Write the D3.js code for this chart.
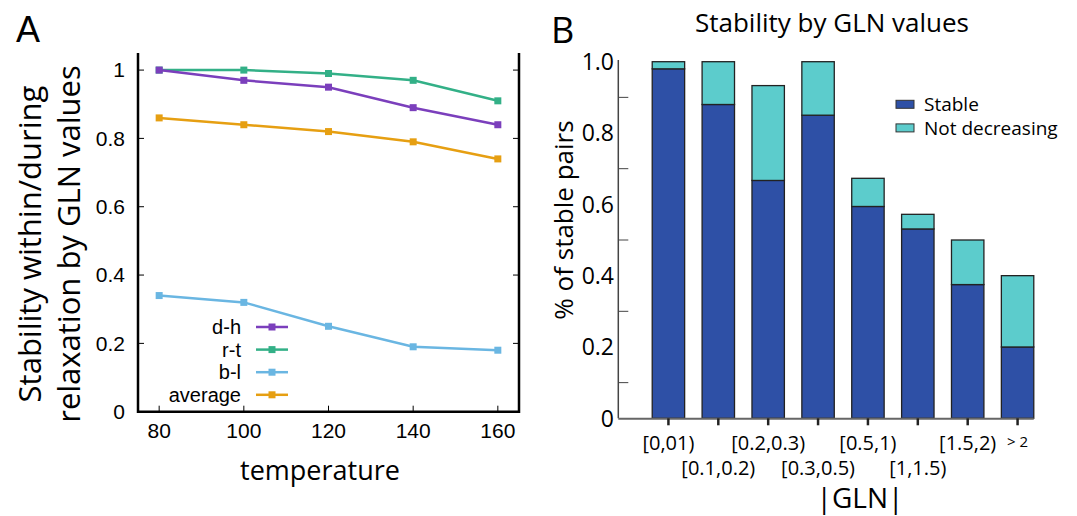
<!DOCTYPE html>
<html>
<head>
<meta charset="utf-8">
<script src="https://cdn.jsdelivr.net/npm/d3@7"></script>
<style>
  body { margin: 0; background: #fff; }
  svg { display: block; }
  .gp { font-family: "Liberation Sans", Arial, sans-serif; }
  .my { font-family: "Open Sans", sans-serif; }
</style>
</head>
<body>
<svg width="1077" height="516"></svg>
<script>
// ---- panel A data ----
var temps = [80, 100, 120, 140, 160];
var seriesNames = ["d-h", "r-t", "b-l", "average"];
var seriesColors = ["#7b3fbc", "#33b087", "#6ab6e2", "#e69f12"];
var dhVals = [1.0, 0.97, 0.95, 0.89, 0.84];
var rtVals = [1.0, 1.0, 0.99, 0.97, 0.91];
var blVals = [0.34, 0.32, 0.25, 0.19, 0.18];
var avgVals = [0.86, 0.84, 0.82, 0.79, 0.74];
var yTicksA = [0, 0.2, 0.4, 0.6, 0.8, 1];

// ---- panel B data ----
var glnBins = ["[0,01)", "[0.1,0.2)", "[0.2,0.3)", "[0.3,0.5)", "[0.5,1)", "[1,1.5)", "[1.5,2)", "> 2"];
var stableVals = [0.98, 0.88, 0.667, 0.85, 0.594, 0.531, 0.375, 0.2];
var notDecrVals = [0.02, 0.12, 0.266, 0.15, 0.079, 0.041, 0.125, 0.2];
var legendB = ["Stable", "Not decreasing"];
var colorsB = ["#2e50a6", "#5ccccc"];
var yTicksB = [0, 0.2, 0.4, 0.6, 0.8, 1.0];
var yMinorB = [0.1, 0.3, 0.5, 0.7, 0.9];

var svg = d3.select('svg');

// ================= Panel A =================
var xA = d3.scaleLinear().domain([75, 165]).range([138, 519]);
var yA = d3.scaleLinear().domain([0, 1.05]).range([411.7, 53]);
var gA = svg.append('g');

// frame (left, bottom, right)
gA.append('path')
    .attr('d', 'M' + xA(75) + ',' + yA(1.05) + 'V' + yA(0) + 'H' + xA(165) + 'V' + yA(1.05))
    .attr('fill', 'none').attr('stroke', '#000').attr('stroke-width', 2.5);

// y ticks (inward on both sides) and labels
yTicksA.forEach(function(t) {
    gA.append('line').attr('x1', xA(75)).attr('x2', xA(75) + 6)
        .attr('y1', yA(t)).attr('y2', yA(t)).attr('stroke', '#000').attr('stroke-width', 1);
    gA.append('line').attr('x1', xA(165)).attr('x2', xA(165) - 6)
        .attr('y1', yA(t)).attr('y2', yA(t)).attr('stroke', '#000').attr('stroke-width', 1);
    gA.append('text').attr('class', 'gp')
        .attr('x', 125).attr('y', yA(t)).attr('dy', '0.35em')
        .attr('text-anchor', 'end').style('font-size', '21px')
        .text(d3.format('~g')(t));
});
temps.forEach(function(t) {
    gA.append('line').attr('x1', xA(t)).attr('x2', xA(t))
        .attr('y1', yA(0)).attr('y2', yA(0) - 6).attr('stroke', '#000').attr('stroke-width', 1);
    gA.append('text').attr('class', 'gp')
        .attr('x', xA(t)).attr('y', 438)
        .attr('text-anchor', 'middle').style('font-size', '21px')
        .text(t);
});

var seriesA = [dhVals, rtVals, blVals, avgVals];
var lineA = d3.line().x(function(d, i) { return xA(temps[i]); }).y(function(d) { return yA(d); });
// draw b-l first so top lines overlay correctly (d-h over r-t at 80)
[2, 3, 1, 0].forEach(function(k) {
    gA.append('path').datum(seriesA[k])
        .attr('d', lineA).attr('fill', 'none')
        .attr('stroke', seriesColors[k]).attr('stroke-width', 2.5);
    gA.selectAll('.m' + k).data(seriesA[k]).enter().append('rect')
        .attr('x', function(d, i) { return xA(temps[i]) - 3.5; })
        .attr('y', function(d) { return yA(d) - 3.5; })
        .attr('width', 7).attr('height', 7)
        .attr('fill', seriesColors[k]);
});

// legend A
seriesNames.forEach(function(name, i) {
    var ly = 327 + i * 22.6;
    gA.append('text').attr('class', 'gp')
        .attr('x', 241).attr('y', ly).attr('dy', '0.35em')
        .attr('text-anchor', 'end').style('font-size', '20px').text(name);
    gA.append('line').attr('x1', 256).attr('x2', 288).attr('y1', ly).attr('y2', ly)
        .attr('stroke', seriesColors[i]).attr('stroke-width', 2.5);
    gA.append('rect').attr('x', 272 - 3.5).attr('y', ly - 3.5).attr('width', 7).attr('height', 7)
        .attr('fill', seriesColors[i]);
});

// axis titles A
gA.append('text').attr('class', 'my')
    .attr('x', 320).attr('y', 480).attr('text-anchor', 'middle')
    .style('font-size', '27px').text('temperature');
var yTitleA = gA.append('text').attr('class', 'my')
    .attr('transform', 'translate(41,244) rotate(-90)')
    .attr('text-anchor', 'middle').style('font-size', '31px');
yTitleA.append('tspan').attr('x', 0).attr('y', 0).text('Stability within/during');
yTitleA.append('tspan').attr('x', 0).attr('y', 39).text('relaxation by GLN values');

svg.append('text').attr('class', 'gp').attr('x', 16).attr('y', 42)
    .style('font-size', '36px').text('A');

// ================= Panel B =================
var xB = d3.scaleBand().domain(glnBins).range([618.3, 1067.7]).paddingInner(0.35).paddingOuter(0.68);
var yB = d3.scaleLinear().domain([0, 1]).range([418.3, 61.7]);
var gB = svg.append('g');

var stackRows = glnBins.map(function(b, i) {
    return {bin: b, stable: stableVals[i], notdecr: notDecrVals[i]};
});
var stacked = d3.stack().keys(['stable', 'notdecr'])(stackRows);

gB.selectAll('.layer').data(stacked).enter().append('g')
    .attr('fill', function(d, i) { return colorsB[i]; })
    .selectAll('rect').data(function(d) { return d; }).enter().append('rect')
    .attr('x', function(d) { return xB(d.data.bin); })
    .attr('y', function(d) { return yB(d[1]); })
    .attr('width', xB.bandwidth())
    .attr('height', function(d) { return yB(d[0]) - yB(d[1]); })
    .attr('stroke', '#222').attr('stroke-width', 1.3);

// axes B
var lastBin = glnBins[glnBins.length - 1];
gB.append('line').attr('x1', 618.3).attr('x2', 618.3).attr('y1', 60).attr('y2', yB(0))
    .attr('stroke', '#444').attr('stroke-width', 1.5);
gB.append('line').attr('x1', 618.3).attr('x2', xB(lastBin) + xB.bandwidth()).attr('y1', yB(0) + 0.5).attr('y2', yB(0) + 0.5)
    .attr('stroke', '#666').attr('stroke-width', 2);
yMinorB.forEach(function(t) {
    gB.append('line').attr('x1', 618.3).attr('x2', 628.3).attr('y1', yB(t)).attr('y2', yB(t))
        .attr('stroke', '#444').attr('stroke-width', 1);
});
yTicksB.forEach(function(t) {
    gB.append('text').attr('class', 'my')
        .attr('x', 614).attr('y', yB(t)).attr('dy', '0.36em')
        .attr('text-anchor', 'end').style('font-size', '23px')
        .text(t === 0 ? '0' : t.toFixed(1));
});
glnBins.forEach(function(b, i) {
    var cx = xB(b) + xB.bandwidth() / 2;
    gB.append('line').attr('x1', cx).attr('x2', cx).attr('y1', yB(0)).attr('y2', yB(0) + 7)
        .attr('stroke', '#222').attr('stroke-width', 2.5);
    var isLast = i === glnBins.length - 1;
    gB.append('text').attr('class', 'my')
        .attr('x', cx).attr('y', isLast ? 447 : (i % 2 === 0 ? 450 : 475))
        .attr('text-anchor', 'middle').style('font-size', isLast ? '15px' : '20px')
        .text(b);
});

// legend B
legendB.forEach(function(name, i) {
    var ly = 104.3 + i * 23.6;
    gB.append('rect').attr('x', 896).attr('y', ly - 4).attr('width', 18).attr('height', 8)
        .attr('fill', colorsB[i]).attr('stroke', '#333').attr('stroke-width', 1);
    gB.append('text').attr('class', 'my')
        .attr('x', 924).attr('y', ly).attr('dy', '0.36em')
        .style('font-size', '19px').text(name);
});

gB.append('text').attr('class', 'my')
    .attr('x', 832).attr('y', 32).attr('text-anchor', 'middle')
    .style('font-size', '26px').text('Stability by GLN values');
gB.append('text').attr('class', 'my')
    .attr('x', 860).attr('y', 508).attr('text-anchor', 'middle')
    .style('font-size', '28px').text('|GLN|');
gB.append('text').attr('class', 'my')
    .attr('transform', 'translate(573,220) rotate(-90)')
    .attr('text-anchor', 'middle').style('font-size', '26px').text('% of stable pairs');

svg.append('text').attr('class', 'my').attr('x', 551).attr('y', 43)
    .style('font-size', '36px').text('B');
</script>
</body>
</html>
